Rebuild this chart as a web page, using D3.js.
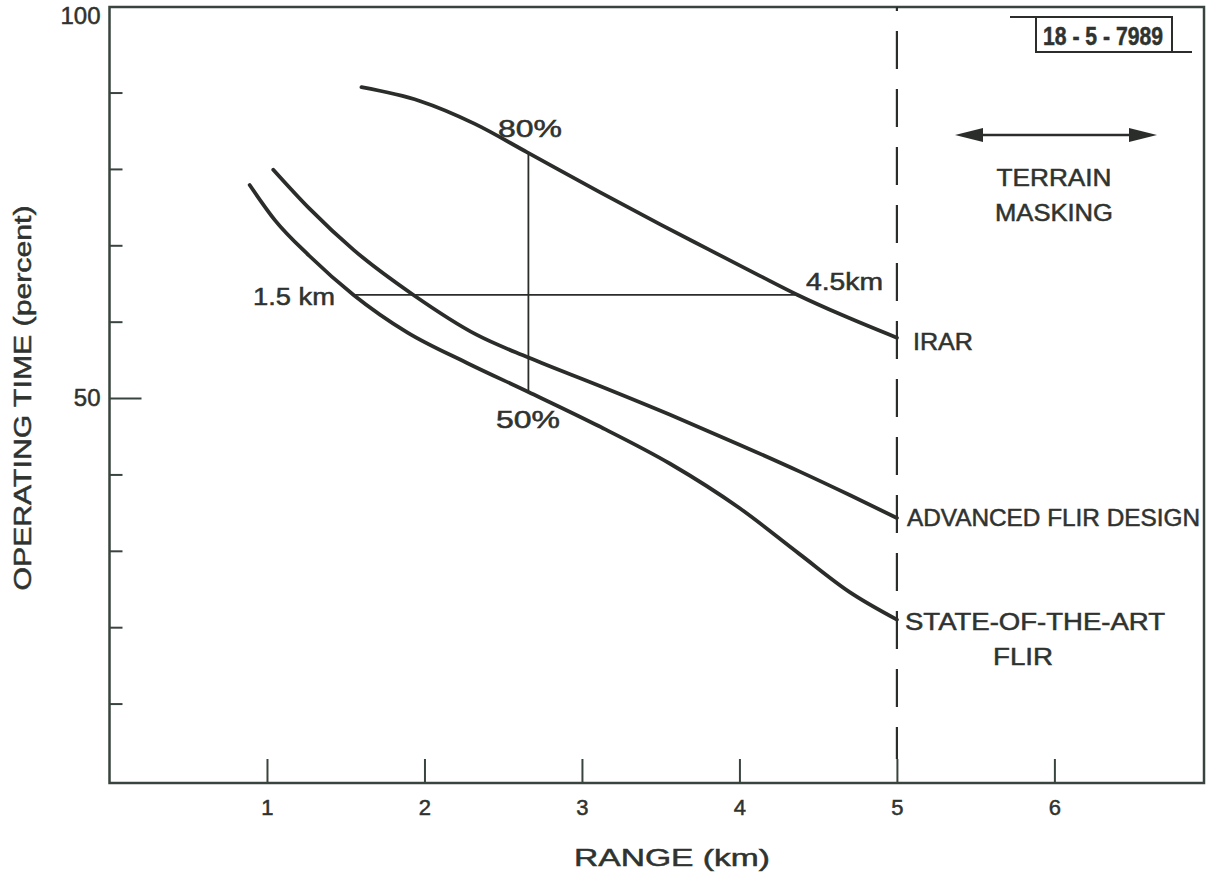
<!DOCTYPE html>
<html>
<head>
<meta charset="utf-8">
<script src="https://cdn.jsdelivr.net/npm/d3@7"></script>
<style>
  body { margin: 0; background: #fff; }
  text { font-family: "Liberation Sans", Arial, sans-serif; fill: #2f3330; stroke: #2f3330; stroke-width: 0.5px; }
</style>
</head>
<body>
<script>
// values: range (km) vs operating time (percent)
var irar     = [[1.60,90.7],[1.97,88.9],[2.32,85.9],[2.65,82.2],[3.11,77.0],[3.50,72.7],[3.81,69.4],[4.13,66.0],[4.37,63.5],[4.66,60.8],[5.0,57.9]];
var advanced = [[1.04,79.9],[1.27,74.8],[1.55,69.4],[1.93,63.5],[2.33,58.3],[2.66,55.3],[3.11,51.6],[3.56,47.8],[4.00,43.9],[4.38,40.4],[4.70,37.3],[5.0,34.3]];
var stateArt = [[0.89,77.9],[1.05,73.3],[1.27,68.6],[1.55,63.5],[1.89,58.6],[2.27,54.6],[2.66,50.8],[3.11,46.3],[3.56,41.4],[4.00,35.6],[4.38,29.6],[4.70,24.6],[5.0,21.0]];

var xTicks  = [1, 2, 3, 4, 5, 6];
var yTicks  = [10, 20, 30, 40, 50, 60, 70, 80, 90];
var yLabels = [50, 100];

// guide lines: 1.5 km .. 4.5 km at equal time, 50% .. 80% at equal range
var hGuide = [[1.55,63.5],[4.37,63.5]];
var vGuide = [[2.66,50.8],[2.66,82.2]];
var maskingRange = 5;

var w = 1213, h = 873;
var ink = "#2b2d2b", frameInk = "#3a443e";

var svg = d3.select("body").append("svg")
    .attr("width", w)
    .attr("height", h);

var x = d3.scaleLinear().domain([0, 6.95]).range([109.5, 1204]);
var y = d3.scaleLinear().domain([-0.4, 101.2]).range([783, 7]);

// frame
svg.append("rect")
    .attr("x", x(0)).attr("y", y(101.2))
    .attr("width", x(6.95) - x(0)).attr("height", y(-0.4) - y(101.2))
    .attr("fill", "none")
    .attr("stroke", frameInk)
    .attr("stroke-width", 2.5);

// x axis ticks (inward) and labels
var xAxis = svg.append("g")
    .attr("transform", "translate(0," + y(-0.4) + ")")
    .call(d3.axisBottom(x).tickValues(xTicks).tickSize(-24).tickPadding(16).tickFormat(d3.format("d")));
xAxis.attr("font-size", null).attr("font-family", null);
xAxis.select(".domain").remove();
xAxis.selectAll("line").attr("stroke", frameInk).attr("stroke-width", 2);
xAxis.selectAll("text").style("font-size", "22px").attr("fill", null);

// y axis ticks (inward), 50 is longer
var yAxis = svg.append("g")
    .attr("transform", "translate(" + x(0) + ",0)")
    .call(d3.axisLeft(y).tickValues(yTicks).tickSize(-13).tickFormat(""));
yAxis.select(".domain").remove();
yAxis.selectAll("line")
    .attr("stroke", frameInk).attr("stroke-width", 2)
    .attr("x2", function(d) { return d == 50 ? 32 : 13; });

var yAxisLab = svg.append("g")
    .attr("transform", "translate(" + x(0) + ",0)")
    .call(d3.axisLeft(y).tickValues(yLabels).tickSize(0).tickPadding(9).tickFormat(d3.format("d")));
yAxisLab.attr("font-size", null).attr("font-family", null);
yAxisLab.select(".domain").remove();
yAxisLab.selectAll("text").style("font-size", "24px").attr("fill", null);

// terrain masking boundary
svg.append("line")
    .attr("x1", x(maskingRange)).attr("x2", x(maskingRange))
    .attr("y1", y(101.2)).attr("y2", y(-0.4) - 24)
    .attr("stroke", ink).attr("stroke-width", 2.2)
    .attr("stroke-dasharray", "38,20")
    .attr("stroke-dashoffset", 34);

// guide lines
var straight = d3.line().x(function(d) { return x(d[0]); }).y(function(d) { return y(d[1]); });
[hGuide, vGuide].forEach(function(g) {
    svg.append("path").attr("d", straight(g))
        .attr("fill", "none").attr("stroke", ink).attr("stroke-width", 1.8);
});

// curves
var curve = d3.line()
    .x(function(d) { return x(d[0]); })
    .y(function(d) { return y(d[1]); })
    .curve(d3.curveMonotoneX);
[irar, advanced, stateArt].forEach(function(s) {
    svg.append("path").attr("d", curve(s))
        .attr("fill", "none").attr("stroke", ink)
        .attr("stroke-width", 3.8).attr("stroke-linecap", "round");
});

// labels
function label(txt, px, py, size, len, anchor) {
    var t = svg.append("text")
        .attr("x", px).attr("y", py)
        .attr("font-size", size)
        .attr("dominant-baseline", "central")
        .attr("text-anchor", anchor || "start")
        .text(txt);
    if (len) t.attr("textLength", len).attr("lengthAdjust", "spacingAndGlyphs");
    return t;
}

label("80%", 530, 129, 23, 64, "middle");
label("50%", 528, 420, 23, 64, "middle");
label("1.5 km", 253, 297, 23, 82);
label("4.5km", 806, 282, 23, 77);

label("IRAR", 913, 342, 23, 60);
label("ADVANCED FLIR DESIGN", 907, 518, 23, 293);
label("STATE-OF-THE-ART", 905, 622, 23, 260);
label("FLIR", 1023, 657, 23, 60, "middle");

label("TERRAIN", 1054, 178, 23, 115, "middle");
label("MASKING", 1054, 213, 23, 118, "middle");

// terrain masking arrow
var ay = 135, ax1 = 955, ax2 = 1157;
svg.append("line").attr("x1", ax1 + 20).attr("x2", ax2 - 20).attr("y1", ay).attr("y2", ay)
    .attr("stroke", ink).attr("stroke-width", 2.4);
svg.append("path").attr("d", "M" + ax1 + "," + ay + "L" + (ax1 + 28) + "," + (ay - 7) + "L" + (ax1 + 28) + "," + (ay + 7) + "Z")
    .attr("fill", ink);
svg.append("path").attr("d", "M" + ax2 + "," + ay + "L" + (ax2 - 28) + "," + (ay - 7) + "L" + (ax2 - 28) + "," + (ay + 7) + "Z")
    .attr("fill", ink);

// axis titles
label("RANGE (km)", 672, 857, 24, 196, "middle");
svg.append("text")
    .attr("transform", "translate(23,398) rotate(-90)")
    .attr("font-size", 23)
    .attr("dominant-baseline", "central")
    .attr("text-anchor", "middle")
    .attr("textLength", 385).attr("lengthAdjust", "spacingAndGlyphs")
    .text("OPERATING TIME (percent)");

// figure number box
svg.append("rect").attr("x", 1036).attr("y", 17).attr("width", 136).attr("height", 35)
    .attr("fill", "none").attr("stroke", ink).attr("stroke-width", 2);
svg.append("line").attr("x1", 1010).attr("x2", 1036).attr("y1", 17).attr("y2", 17)
    .attr("stroke", ink).attr("stroke-width", 2);
svg.append("line").attr("x1", 1172).attr("x2", 1192).attr("y1", 52).attr("y2", 52)
    .attr("stroke", ink).attr("stroke-width", 2);
label("18 - 5 - 7989", 1103, 36, 25, 120, "middle").attr("font-weight", "bold");
</script>
</body>
</html>
